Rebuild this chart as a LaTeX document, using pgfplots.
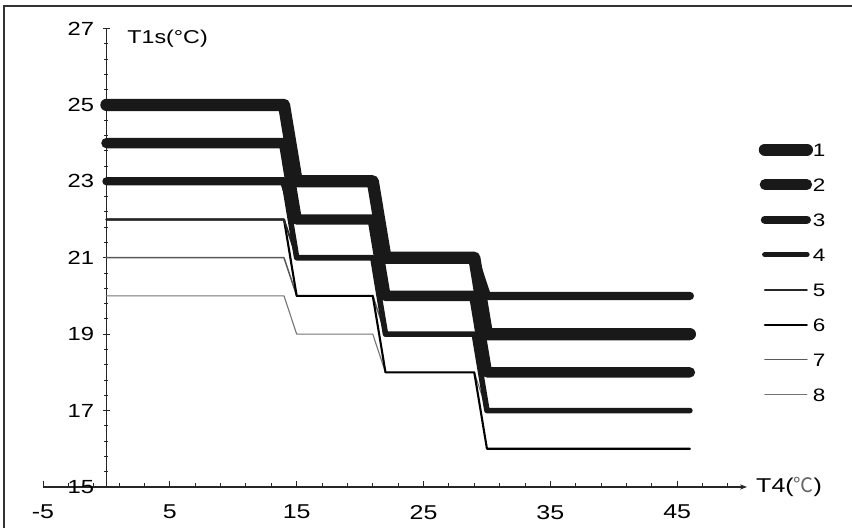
\documentclass[border=0pt]{standalone}
\usepackage{fontspec}
\setmainfont{Liberation Sans}[FakeStretch=1.25]
\newfontfamily\cjk{Noto Sans CJK SC}
\usepackage{pgfplots}
\pgfplotsset{compat=1.18}
\usetikzlibrary{arrows.meta}

\begin{document}
\begin{tikzpicture}
\useasboundingbox (0,0) rectangle (426pt,264pt);
\draw[line width=1pt, black!80] (2pt,0) -- (2pt,261pt) -- (426pt,261pt);
\begin{axis}[
  at={(21.5pt,20.5pt)}, anchor=south west,
  scale only axis, width=352pt, height=229.25pt,
  xmin=-5, xmax=50.5, ymin=15, ymax=27,
  axis x line=bottom, axis y line=middle,
  every axis x label/.style={at={(axis cs:50.67,15)}, anchor=west, font=\fontsize{10}{12}\selectfont},
  every axis y label/.style={at={(axis cs:1.1,26.72)}, anchor=west, font=\fontsize{9.3}{11}\selectfont},
  xlabel={T4({\cjk\color{black!60}℃})},
  ylabel={T1s(°C)},
  hide obscured x ticks=false, hide obscured y ticks=false,
  x axis line style={-{Stealth[length=3.5pt,width=2.6pt]}, line width=0.6pt, black!85},
  y axis line style={-, line width=0.6pt, black!85},
  xtick={-5,5,15,25,35,45}, xticklabels={-5,5,15,25,35,45},
  minor xtick={-3,-1,...,49},
  ytick={15,17,19,21,23,25,27}, yticklabels={15,17,19,21,23,25,27},
  minor y tick num=4,
  xtick align=inside, ytick align=center,
  major tick length=3.2pt, minor tick length=2pt,
  tick style={line width=0.5pt, black!85},
  xticklabel style={font=\fontsize{10}{12}\selectfont, yshift=-5.5pt},
  yticklabel style={font=\fontsize{9.5}{11}\selectfont, xshift=-1pt},
  every axis plot/.append style={line cap=round, line join=round},
  clip=false,
  reverse legend,
  legend image code/.code={\draw[#1] (0pt,0pt) -- (21pt,0pt);},
  legend style={draw=none, fill=none, at={(axis cs:51.43,24.0)}, anchor=north west,
    inner sep=0pt, outer sep=0pt, row sep=11pt,
    font=\fontsize{9}{10}\selectfont,
    nodes={inner sep=0pt, text height=6.5pt, text depth=0pt},
    /tikz/every even column/.append style={column sep=2pt}},
]
% 8
\addplot[color=black!55, line width=0.55pt] coordinates {(0,20)(14,20)(15,19)(21,19)(22,18)(29,18)(30,17)(46,17)};
\addlegendentry{8}
% 7
\addplot[color=black!65, line width=0.75pt] coordinates {(0,21)(14,21)(15,20)(21,20)(22,19)(29,19)(30,17)(46,17)};
\addlegendentry{7}
% 6
\addplot[color=black, line width=1.05pt] coordinates {(0,22)(14,22)(15,20)(21,20)(22,18)(29,18)(30,16)(46,16)};
\addlegendentry{6}
% 5
\addplot[color=black!85, line width=0.95pt] coordinates {(0,22)(14,22)(15,21)(21,21)(22,19)(29,19)(30,17)(46,17)};
\addlegendentry{5}
% 4
\addplot[color=black!90, line width=2.8pt] coordinates {(0,23)(14,23)(15,21)(21,21)(22,19)(29,19)(30,17)(46,17)};
\addlegendentry{4}
% 3
\addplot[color=black!90, line width=4.1pt] coordinates {(0,23)(14,23)(15,22)(21,22)(22,21)(29,21)(30,20)(46,20)};
\addlegendentry{3}
% 2
\addplot[color=black!90, line width=5.2pt] coordinates {(0,24)(14,24)(15,22)(21,22)(22,20)(29,20)(30,18)(46,18)};
\addlegendentry{2}
% 1
\addplot[color=black!90, line width=6.1pt] coordinates {(0,25)(14,25)(15,23)(21,23)(22,21)(29,21)(30,19)(46,19)};
\addlegendentry{1}
\end{axis}
\end{tikzpicture}
\end{document}
